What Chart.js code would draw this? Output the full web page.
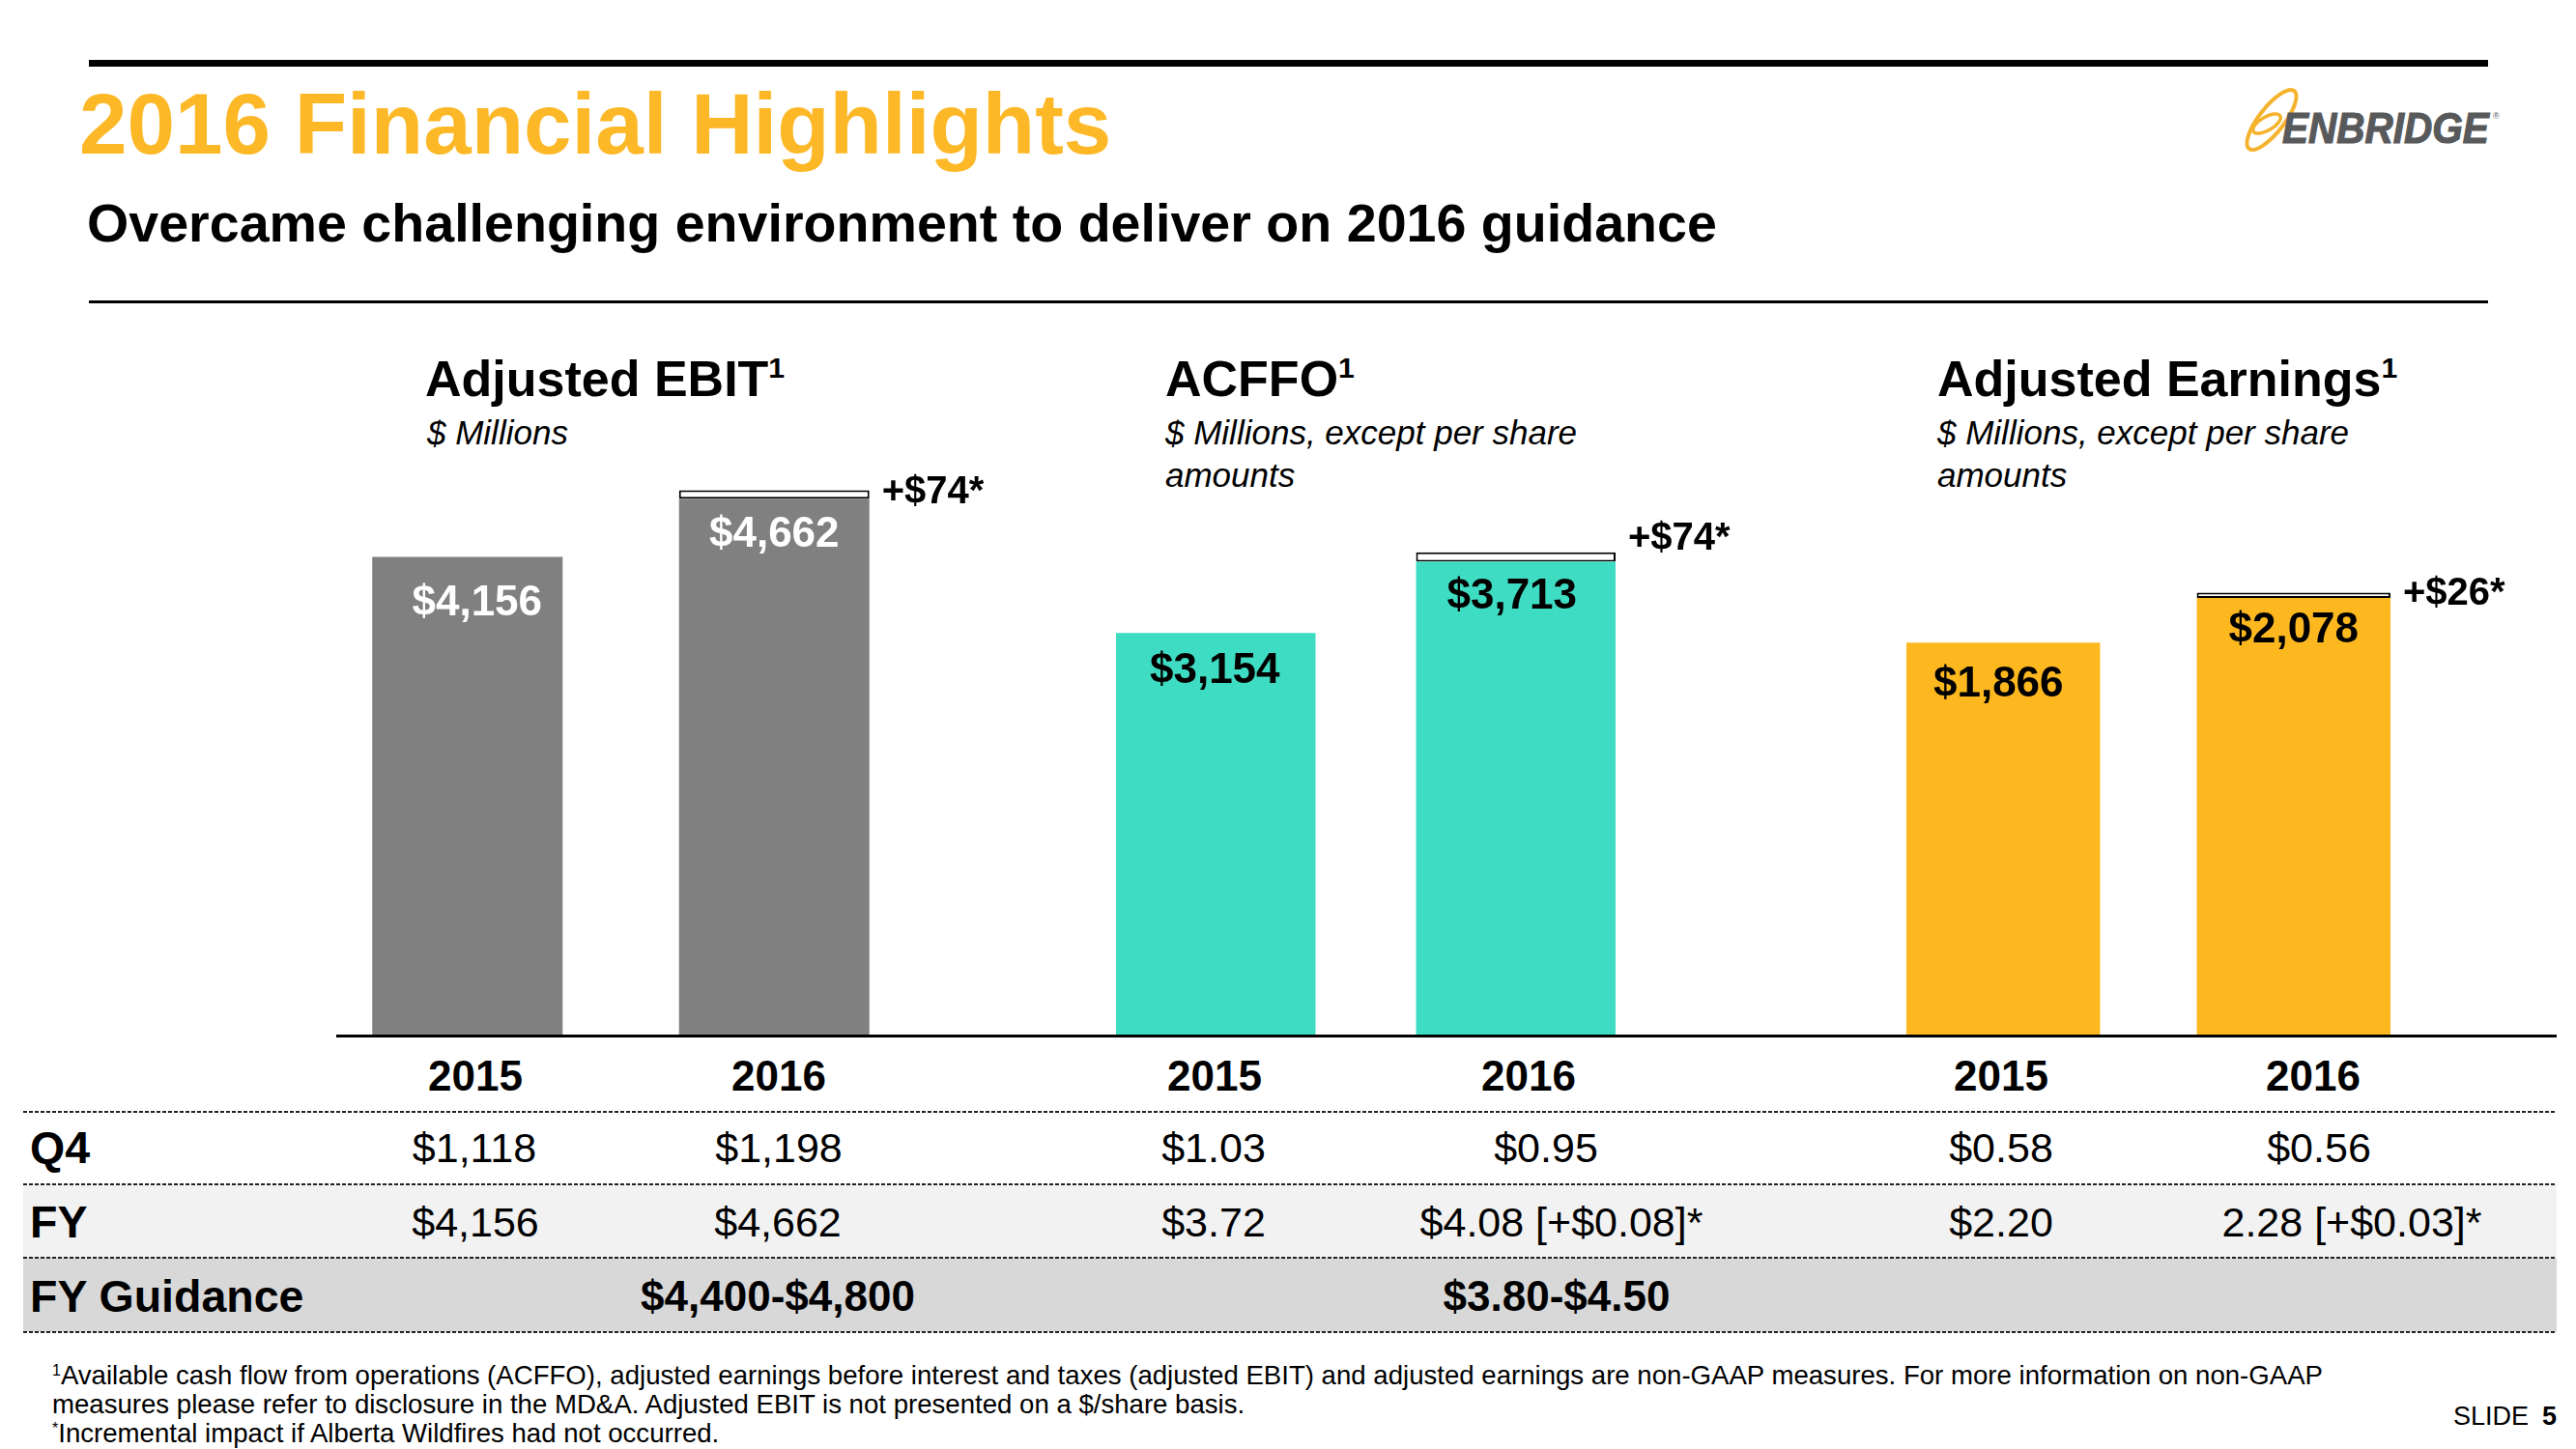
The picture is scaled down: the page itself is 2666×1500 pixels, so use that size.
<!DOCTYPE html>
<html>
<head>
<meta charset="utf-8">
<script src="https://cdn.jsdelivr.net/npm/chart.js@4.4.1/dist/chart.umd.min.js"></script>
<style>
html,body{margin:0;padding:0;background:#fff;}
body{width:2666px;height:1500px;position:relative;overflow:hidden;font-family:"Liberation Sans",Arial,Helvetica,sans-serif;color:#000;}
.abs{position:absolute;white-space:nowrap;line-height:1;}
.rule{position:absolute;background:#000;}
.dots{position:absolute;left:24px;width:2622px;height:2px;background:repeating-linear-gradient(to right,#222 0 4px,transparent 4px 6px);}
.cell{position:absolute;height:60px;line-height:60px;white-space:nowrap;transform:translateX(-50%);}
.sup{font-size:0.58em;vertical-align:0.62em;line-height:0;}
.fsup{font-size:16px;vertical-align:9px;line-height:0;}
canvas{position:absolute;}
</style>
</head>
<body>
<script>
// ---------------- data ----------------
const years = ['2015', '2016'];
const ebitValues = [4156, 4662];
const ebitWildfire = [null, 74];
const acffoValues = [3154, 3713];
const acffoWildfire = [null, 74];
const earningsValues = [1866, 2078];
const earningsWildfire = [null, 26];

const rowLabels = ['Q4', 'FY', 'FY Guidance'];
const q4Values = ['$1,118', '$1,198', '$1.03', '$0.95', '$0.58', '$0.56'];
const fyValues = ['$4,156', '$4,662', '$3.72', '$4.08 [+$0.08]*', '$2.20', '2.28 [+$0.03]*'];
const guidanceValues = ['', '$4,400-$4,800', '', '$3.80-$4.50', '', ''];
</script>

<!-- header -->
<div class="rule" style="left:92px;top:62px;width:2483px;height:7px;"></div>
<div class="abs" style="left:82px;top:84px;font-size:89px;font-weight:bold;color:#FDB827;">2016 Financial Highlights</div>
<div class="abs" style="left:90px;top:204px;font-size:55.6px;font-weight:bold;">Overcame challenging environment to deliver on 2016 guidance</div>
<div class="rule" style="left:92px;top:311px;width:2483px;height:3px;"></div>

<!-- logo -->
<svg style="position:absolute;left:2300px;top:80px;" width="100" height="90" viewBox="0 0 100 90">
  <ellipse cx="51" cy="44" rx="38" ry="13" transform="rotate(-52 51 44)" stroke="#F5B32D" stroke-width="4" fill="none"/>
  <ellipse cx="46" cy="48" rx="16" ry="7" transform="rotate(-30 46 48)" stroke="#F5B32D" stroke-width="3.5" fill="none"/>
</svg>
<div class="abs" style="left:2362px;top:111px;font-size:44px;font-weight:bold;font-style:italic;color:#58595B;-webkit-text-stroke:1.2px #58595B;transform:scaleX(0.92);transform-origin:0 0;">ENBRIDGE</div>
<div class="abs" style="left:2580px;top:116px;font-size:9px;color:#58595B;">®</div>

<!-- chart titles -->
<div class="abs" style="left:440px;top:366px;font-size:52px;font-weight:bold;">Adjusted EBIT<span class="sup">1</span></div>
<div class="abs" style="left:442px;top:426px;font-size:35px;font-style:italic;line-height:44px;">$ Millions</div>
<div class="abs" style="left:1206px;top:366px;font-size:52px;font-weight:bold;">ACFFO<span class="sup">1</span></div>
<div class="abs" style="left:1206px;top:426px;font-size:35px;font-style:italic;line-height:44px;">$ Millions, except per share<br>amounts</div>
<div class="abs" style="left:2005px;top:366px;font-size:52px;font-weight:bold;">Adjusted Earnings<span class="sup">1</span></div>
<div class="abs" style="left:2005px;top:426px;font-size:35px;font-style:italic;line-height:44px;">$ Millions, except per share<br>amounts</div>

<!-- charts -->
<canvas id="cEbit" width="735" height="672" style="left:325px;top:400px;"></canvas>
<canvas id="cAcffo" width="721" height="672" style="left:1103px;top:400px;"></canvas>
<canvas id="cEarn" width="701" height="672" style="left:1923px;top:400px;"></canvas>

<!-- baseline -->
<div class="rule" style="left:348px;top:1071px;width:2298px;height:3px;"></div>

<!-- table -->
<div style="position:absolute;left:24px;top:1226px;width:2622px;height:76px;background:#F2F2F2;"></div>
<div style="position:absolute;left:24px;top:1302px;width:2622px;height:77px;background:#D8D8D8;"></div>
<div class="dots" style="top:1150px;"></div>
<div class="dots" style="top:1225px;"></div>
<div class="dots" style="top:1301px;"></div>
<div class="dots" style="top:1378px;"></div>
<div id="table"></div>

<!-- footnotes -->
<div class="abs" style="left:54px;top:1409px;font-size:27.6px;line-height:30px;">
<span class="fsup">1</span>Available cash flow from operations (ACFFO), adjusted earnings before interest and taxes (adjusted EBIT) and adjusted earnings are non-GAAP measures. For more information on non-GAAP<br>measures please refer to disclosure in the MD&amp;A. Adjusted EBIT is not presented on a $/share basis.<br><span class="fsup">*</span>Incremental impact if Alberta Wildfires had not occurred.</div>
<div class="abs" style="right:20px;top:1452px;font-size:27px;line-height:28px;">SLIDE<span style="font-weight:bold;margin-left:14px;">5</span></div>

<script>
// ---------------- table ----------------
(function(){
  const t = document.getElementById('table');
  function cell(text, cx, cy, size, bold, left) {
    const d = document.createElement('div');
    d.className = 'cell';
    d.textContent = text;
    d.style.left = cx + 'px';
    d.style.top = (cy - 30) + 'px';
    d.style.fontSize = size + 'px';
    if (bold) d.style.fontWeight = 'bold';
    if (left) d.style.transform = 'none';
    t.appendChild(d);
  }
  const headX = [492, 806, 1257, 1582, 2071, 2394];
  const q4X = [491, 806, 1256, 1600, 2071, 2400];
  const fyX = [492, 805, 1256, 1616, 2071, 2434];
  const gX = [492, 805, 1256, 1611, 2071, 2400];
  const header = years.concat(years, years);
  header.forEach((y, i) => cell(y, headX[i], 1114, 44, true));
  cell(rowLabels[0], 31, 1188, 46.5, true, true);
  cell(rowLabels[1], 31, 1265, 46.5, true, true);
  cell(rowLabels[2], 31, 1342, 46.5, true, true);
  q4Values.forEach((v, i) => cell(v, q4X[i], 1188, 43, false));
  fyValues.forEach((v, i) => cell(v, fyX[i], 1265, 43, false));
  guidanceValues.forEach((v, i) => { if (v) cell(v, gX[i], 1342, 44, true); });
})();

// ---------------- charts ----------------
const FONT = '"Liberation Sans", Arial, sans-serif';
const barLabels = {
  id: 'barLabels',
  afterDatasetsDraw(chart, args, opts) {
    const ctx = chart.ctx;
    const main = chart.getDatasetMeta(0);
    const inc = chart.getDatasetMeta(1);
    ctx.save();
    main.data.forEach((bar, i) => {
      const v = chart.data.datasets[0].data[i];
      ctx.font = 'bold 44px ' + FONT;
      ctx.fillStyle = opts.valueColor;
      ctx.textAlign = 'center';
      ctx.textBaseline = 'middle';
      ctx.fillText('$' + v.toLocaleString('en-US'), bar.x + opts.dx[i], bar.y + opts.dy[i]);
      const d = chart.data.datasets[1].data[i];
      if (d) {
        const b = inc.data[i];
        ctx.font = 'bold 40px ' + FONT;
        ctx.fillStyle = '#000';
        ctx.textAlign = 'left';
        ctx.fillText('+$' + d + '*', b.x + b.width / 2 + 13, b.y + opts.incDy);
      }
    });
    ctx.restore();
  }
};

function makeChart(id, values, extra, color, yMax, barPct, labelOpts) {
  return new Chart(document.getElementById(id), {
    type: 'bar',
    data: {
      labels: years,
      datasets: [
        { data: values, backgroundColor: color, borderWidth: 0, barPercentage: barPct, categoryPercentage: 1 },
        { data: extra, backgroundColor: '#FFFFFF', borderColor: '#000000', borderWidth: 2, borderSkipped: false, barPercentage: barPct, categoryPercentage: 1 }
      ]
    },
    options: {
      responsive: false,
      devicePixelRatio: 1,
      animation: false,
      layout: { padding: { left: 0, right: 100, top: 0, bottom: 0 } },
      plugins: { legend: { display: false }, tooltip: { enabled: false }, barLabels: labelOpts },
      scales: {
        x: { stacked: true, display: false, offset: true },
        y: { stacked: true, display: false, min: 0, max: yMax }
      }
    },
    plugins: [barLabels]
  });
}

makeChart('cEbit', ebitValues, ebitWildfire, '#808080', 5637, 0.6205,
  { valueColor: '#FFFFFF', dx: [10, 0], dy: [48, 38], incDy: 3 });
makeChart('cAcffo', acffoValues, acffoWildfire, '#3EDCC2', 5087, 0.665,
  { valueColor: '#000000', dx: [-1, -4], dy: [40, 36], incDy: -14 });
makeChart('cEarn', earningsValues, earningsWildfire, '#FDB81F', 3083, 0.667,
  { valueColor: '#000000', dx: [-5, 0], dy: [44, 34], incDy: 2 });
</script>
</body>
</html>
